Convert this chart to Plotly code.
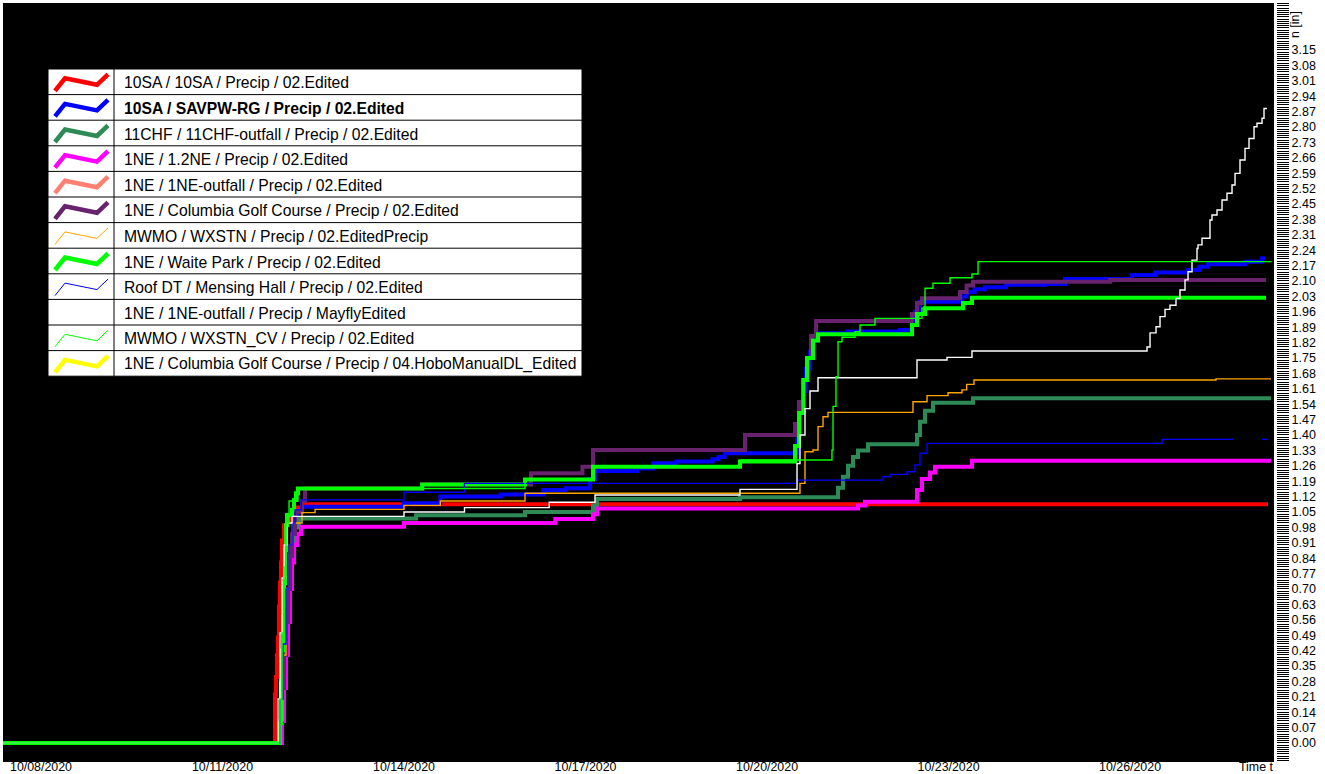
import pandas as pd
import plotly.graph_objects as go

# ---------------------------------------------------------------------------
# Cumulative precipitation, October 2020.
# Time is given as elapsed days after 2020-10-08 00:00; values in inches.
# ---------------------------------------------------------------------------
BASE = pd.Timestamp("2020-10-08 00:00")
T_START, T_END = -0.628, 20.413

series_names = [
    "10SA / 10SA / Precip / 02.Edited",
    "10SA / SAVPW-RG / Precip / 02.Edited",
    "11CHF / 11CHF-outfall / Precip / 02.Edited",
    "1NE / 1.2NE / Precip / 02.Edited",
    "1NE / 1NE-outfall / Precip / 02.Edited",
    "1NE / Columbia Golf Course / Precip / 02.Edited",
    "MWMO / WXSTN / Precip / 02.EditedPrecip",
    "1NE / Waite Park / Precip / 02.Edited",
    "Roof DT / Mensing Hall / Precip / 02.Edited",
    "1NE / 1NE-outfall / Precip / MayflyEdited",
    "MWMO / WXSTN_CV / Precip / 02.Edited",
    "1NE / Columbia Golf Course / Precip / 04.HoboManualDL_Edited",
]
series_colors = ["#FF0000", "#0000FF", "#2E8B57", "#FF00FF", "#FF8070", "#68226E",
                 "#FFA500", "#00FF00", "#0000FF", "#FFFFFF", "#00FF00", "#FFFF00"]
series_widths = [4, 4, 4, 4, 4, 4, 1.4, 4, 1.4, 1.4, 1.4, 4]
series_bold = [False, True] + [False] * 10

# 10SA / 10SA
red_days = [T_START, 3.868, 3.884, 3.900, 3.917, 3.933, 3.950, 3.967, 3.983, 4.017,
            4.066, 4.099, 4.182, 4.248, 4.314, 20.281]
red_vals = [0.0, 0.22, 0.30, 0.40, 0.48, 0.62, 0.73, 0.82, 0.92, 0.99,
            1.006, 1.02, 1.05, 1.07, 1.085, 1.085]

# 10SA / SAVPW-RG
blue_days = [T_START, 3.950, 3.983, 4.017, 4.050, 4.083, 4.116, 4.149, 4.199, 4.248,
             4.314, 6.0, 6.6, 7.6, 8.3, 8.67, 9.074, 9.157, 9.851, 10.12, 10.50,
             11.10, 11.20, 11.30, 12.496, 12.545, 12.595, 12.645, 12.711, 12.760,
             12.843, 13.322, 14.198, 14.397, 14.446, 14.529, 15.223, 15.300, 15.430,
             15.600, 15.950, 16.600, 16.926, 18.033, 18.413, 18.959, 19.140, 19.289,
             19.901, 20.182, 20.231]
blue_vals = [0.0, 0.10, 0.25, 0.40, 0.55, 0.70, 0.85, 0.95, 1.02, 1.05,
             1.074, 1.09, 1.12, 1.13, 1.15, 1.158, 1.20, 1.236, 1.248, 1.271, 1.279,
             1.29, 1.30, 1.317, 1.40, 1.50, 1.60, 1.70, 1.78, 1.83,
             1.862, 1.87, 1.877, 1.92, 1.96, 2.006, 2.03, 2.05, 2.062,
             2.071, 2.083, 2.086, 2.109, 2.127, 2.139, 2.15, 2.165, 2.176,
             2.188, 2.203, 2.203]

# 11CHF / 11CHF-outfall
seagreen_days = [T_START, 3.950, 3.983, 4.017, 4.050, 4.083, 4.116, 4.149, 4.199, 4.264,
                 6.2, 8.0, 9.124, 9.190, 11.554, 13.174, 13.256, 13.339, 13.421, 13.504,
                 13.669, 14.479, 14.529, 14.612, 14.744, 15.405, 20.331]
seagreen_vals = [0.0, 0.08, 0.20, 0.35, 0.50, 0.65, 0.78, 0.90, 0.98, 1.02,
                 1.035, 1.05, 1.08, 1.109, 1.117, 1.16, 1.21, 1.26, 1.30, 1.33,
                 1.358, 1.40, 1.46, 1.51, 1.547, 1.567, 1.567]

# 1NE / 1.2NE
magenta_days = [T_START, 3.983, 4.017, 4.050, 4.083, 4.116, 4.149, 4.182, 4.232, 4.297,
                6.0, 8.5, 9.124, 9.190, 13.504, 13.620, 14.479, 14.562, 14.694, 14.777,
                15.388, 20.331]
magenta_vals = [0.0, 0.10, 0.25, 0.40, 0.55, 0.70, 0.82, 0.90, 0.95, 0.983,
                1.0, 1.018, 1.04, 1.066, 1.08, 1.097, 1.15, 1.20, 1.23, 1.256,
                1.283, 1.283]

# 1NE / 1NE-outfall (02.Edited) - no record in this window
salmon_days = []
salmon_vals = []

# 1NE / Columbia Golf Course
purple_days = [T_START, 3.950, 3.983, 4.017, 4.050, 4.083, 4.116, 4.149, 4.199, 4.314,
               4.364, 6.3, 8.1, 8.95, 9.124, 11.636, 12.463, 12.528, 12.595,
               12.661, 12.727, 12.810, 14.397, 14.479, 14.562, 15.190, 15.300, 15.405,
               17.670, 20.248]
purple_vals = [0.0, 0.10, 0.25, 0.40, 0.55, 0.70, 0.85, 0.95, 1.05, 1.10,
               1.157, 1.175, 1.226, 1.256, 1.332, 1.40, 1.45, 1.55, 1.65,
               1.75, 1.85, 1.918, 1.95, 2.00, 2.021, 2.05, 2.08, 2.097,
               2.105, 2.105]

# MWMO / WXSTN
orange_days = [T_START, 3.950, 4.000, 4.050, 4.100, 4.150, 4.314, 4.530, 6.0, 6.6, 8.0,
               12.496, 12.545, 12.628, 12.760, 12.843, 12.926, 13.008, 14.413, 14.645,
               14.992, 15.223, 15.300, 15.421, 19.421, 20.331]
orange_vals = [0.0, 0.10, 0.40, 0.70, 0.90, 1.00, 1.047, 1.062, 1.08, 1.10, 1.135,
               1.135, 1.18, 1.324, 1.332, 1.438, 1.483, 1.503, 1.551, 1.579,
               1.592, 1.605, 1.63, 1.65, 1.655, 1.655]

# 1NE / Waite Park
lime_days = [T_START, 3.950, 3.967, 3.983, 4.000, 4.017, 4.033, 4.050, 4.066, 4.149,
             4.182, 4.215, 4.248, 6.3, 8.0, 9.124, 11.554, 12.463, 12.530, 12.600,
             12.661, 12.760, 12.843, 14.397, 14.479, 14.612, 15.240, 15.388, 20.248]
lime_vals = [0.0, 0.09, 0.27, 0.42, 0.574, 0.726, 0.877, 0.99, 1.036, 1.06,
             1.105, 1.135, 1.157, 1.175, 1.198, 1.256, 1.279, 1.35, 1.50, 1.65,
             1.75, 1.83, 1.858, 1.90, 1.95, 1.976, 2.00, 2.024, 2.024]

# Roof DT / Mensing Hall (logger gap late on 10/27)
navy_days = [T_START, 3.950, 4.000, 4.050, 4.100, 4.150, 4.200, 4.300, 6.0, 7.0,
             12.500, 13.917, 14.033, 14.314, 14.446, 14.529, 14.645, 18.529, 19.702,
             19.710, 20.182, 20.281]
navy_vals = [0.0, 0.20, 0.45, 0.70, 0.90, 1.00, 1.06, 1.105, 1.14, 1.18,
             1.195, 1.21, 1.221, 1.233, 1.264, 1.317, 1.362, 1.38, 1.38,
             None, 1.38, 1.38]

# 1NE / 1NE-outfall (MayflyEdited)
white_days = [T_START, 3.917, 3.950, 3.983, 4.017, 4.066, 4.149, 6.0, 7.0, 8.4, 9.157,
              11.554, 12.496, 12.545, 12.628, 12.711, 12.843, 14.479, 14.975, 15.388,
              18.281, 18.331, 18.430, 18.496, 18.579, 18.661, 18.760, 18.826, 18.909,
              18.959, 19.025, 19.107, 19.124, 19.190, 19.322, 19.355, 19.438, 19.521,
              19.603, 19.686, 19.736, 19.818, 19.901, 19.967, 20.050, 20.099, 20.182,
              20.215, 20.264]
white_vals = [0.0, 0.20, 0.50, 0.75, 0.90, 1.00, 1.03, 1.05, 1.07, 1.094, 1.127,
              1.153, 1.27, 1.40, 1.52, 1.60, 1.66, 1.741, 1.753, 1.782,
              1.80, 1.864, 1.892, 1.938, 1.971, 1.99, 2.021, 2.059, 2.105,
              2.142, 2.195, 2.248, 2.264, 2.294, 2.377, 2.40, 2.423, 2.468,
              2.499, 2.536, 2.589, 2.65, 2.703, 2.748, 2.801, 2.817, 2.84,
              2.884, 2.884]

# MWMO / WXSTN_CV
cv_days = [T_START, 3.950, 3.983, 4.017, 4.050, 4.100, 4.248, 8.0, 9.124, 11.554,
           13.041, 13.074, 13.091, 13.140, 13.174, 13.240, 13.455, 13.537, 13.785,
           14.446, 14.562, 14.612, 14.744, 15.025, 15.388, 15.488, 20.331]
cv_vals = [0.0, 0.20, 0.50, 0.80, 1.00, 1.10, 1.157, 1.198, 1.256, 1.286,
           1.286, 1.332, 1.53, 1.665, 1.824, 1.844, 1.87, 1.90, 1.93,
           1.93, 1.976, 2.067, 2.09, 2.115, 2.132, 2.188, 2.19]

# 1NE / Columbia Golf Course (04.HoboManualDL_Edited) - no record in this window
yellow_days = []
yellow_vals = []

series_data = [
    (red_days, red_vals), (blue_days, blue_vals), (seagreen_days, seagreen_vals),
    (magenta_days, magenta_vals), (salmon_days, salmon_vals), (purple_days, purple_vals),
    (orange_days, orange_vals), (lime_days, lime_vals), (navy_days, navy_vals),
    (white_days, white_vals), (cv_days, cv_vals), (yellow_days, yellow_vals),
]

# Axis ticks
y_tick_vals = [round(0.07 * i, 2) for i in range(46)]
y_tick_text = [f"{v:.2f}" for v in y_tick_vals]
x_tick_dates = ["2020-10-08", "2020-10-11", "2020-10-14", "2020-10-17",
                "2020-10-20", "2020-10-23", "2020-10-26"]
x_tick_text = ["10/08/2020", "10/11/2020", "10/14/2020", "10/17/2020",
               "10/20/2020", "10/23/2020", "10/26/2020"]
Y_MIN, Y_MAX = -0.0864, 3.3636

# ---------------------------------------------------------------------------
# Page geometry (pixels)
# ---------------------------------------------------------------------------
W, H = 1325, 774
PL, PT, PR, PB = 3, 3, 1276, 762          # plot area box
BLACK_R = 1274                             # right edge of the black canvas
PW, PH = PR - PL, PB - PT


def px(x):
    return (x - PL) / PW


def py(y):
    return (PB - y) / PH


FONT = "Liberation Sans, Arial, sans-serif"

fig = go.Figure()

for name, color, width, (days, vals) in zip(series_names, series_colors,
                                            series_widths, series_data):
    times = [BASE + pd.Timedelta(days=d) for d in days]
    fig.add_trace(go.Scatter(
        x=times, y=vals, mode="lines", name=name,
        line=dict(color=color, width=width, shape="hv"),
        connectgaps=False, hoverinfo="skip",
    ))

shapes = [dict(type="rect", xref="paper", yref="paper", x0=0, x1=px(BLACK_R),
               y0=0, y1=1, fillcolor="black", line=dict(width=0), layer="below")]

# Legend table
LG_L, LG_R, LG_T, ROW_H = 48, 582, 69, 25.6
LG_SEP = 114
n_rows = len(series_names)
LG_B = LG_T + ROW_H * n_rows
shapes.append(dict(type="rect", xref="paper", yref="paper",
                   x0=px(LG_L), x1=px(LG_R), y0=py(LG_B), y1=py(LG_T),
                   fillcolor="white", line=dict(color="black", width=1)))
shapes.append(dict(type="line", xref="paper", yref="paper",
                   x0=px(LG_SEP), x1=px(LG_SEP), y0=py(LG_B), y1=py(LG_T),
                   line=dict(color="black", width=1)))
annotations = []
for i, (name, color, width, bold) in enumerate(zip(series_names, series_colors,
                                                   series_widths, series_bold)):
    top = LG_T + ROW_H * i
    c = top + ROW_H / 2
    if i > 0:
        shapes.append(dict(type="line", xref="paper", yref="paper",
                           x0=px(LG_L), x1=px(LG_R), y0=py(top), y1=py(top),
                           line=dict(color="black", width=1)))
    pts = [(55, c + 9), (65, c - 3.5), (97, c + 3), (108, c - 7.5)]
    path = "M " + " L ".join(f"{px(a):.5f},{py(b):.5f}" for a, b in pts)
    shapes.append(dict(type="path", xref="paper", yref="paper", path=path,
                       line=dict(color=color, width=4.5 if width > 2 else 1)))
    annotations.append(dict(
        xref="paper", yref="paper", x=px(122), y=py(c + 1), xanchor="left",
        yanchor="middle", showarrow=False,
        text=f"<b>{name}</b>" if bold else name,
        font=dict(family=FONT, size=15.7, color="black"),
    ))

annotations.append(dict(xref="paper", yref="paper", x=px(BLACK_R + 1), y=py(767),
                        xanchor="right", yanchor="middle", showarrow=False,
                        text="Time t", font=dict(family=FONT, size=12.4, color="black"),
                        borderpad=0))
annotations.append(dict(xref="paper", yref="paper", x=px(1295), y=py(25),
                        xanchor="center", yanchor="middle", showarrow=False,
                        textangle=-90, text="n [in]",
                        font=dict(family=FONT, size=12.4, color="black")))

fig.update_layout(
    width=W, height=H,
    margin=dict(l=PL, r=W - PR, t=PT, b=H - PB, pad=0, autoexpand=False),
    paper_bgcolor="white", plot_bgcolor="white",
    showlegend=False,
    shapes=shapes, annotations=annotations,
    xaxis=dict(
        type="date",
        range=[BASE + pd.Timedelta(days=T_START), BASE + pd.Timedelta(days=T_END)],
        tickmode="array", tickvals=x_tick_dates, ticktext=x_tick_text,
        ticks="", showgrid=False, zeroline=False, showline=False,
        ticklabelstandoff=-4,
        tickfont=dict(family=FONT, size=12.4, color="black"),
    ),
    yaxis=dict(
        side="right", range=[Y_MIN, Y_MAX],
        tickmode="array", tickvals=y_tick_vals, ticktext=y_tick_text,
        ticks="outside", ticklen=12, tickwidth=1, tickcolor="black",
        showgrid=False, zeroline=False, showline=False,
        tickfont=dict(family=FONT, size=12.5, color="black"),
        minor=dict(tickmode="linear", tick0=0, dtick=0.01, ticks="outside",
                   ticklen=12, tickwidth=1, tickcolor="black", showgrid=False),
    ),
)

fig.write_html("out.html")
